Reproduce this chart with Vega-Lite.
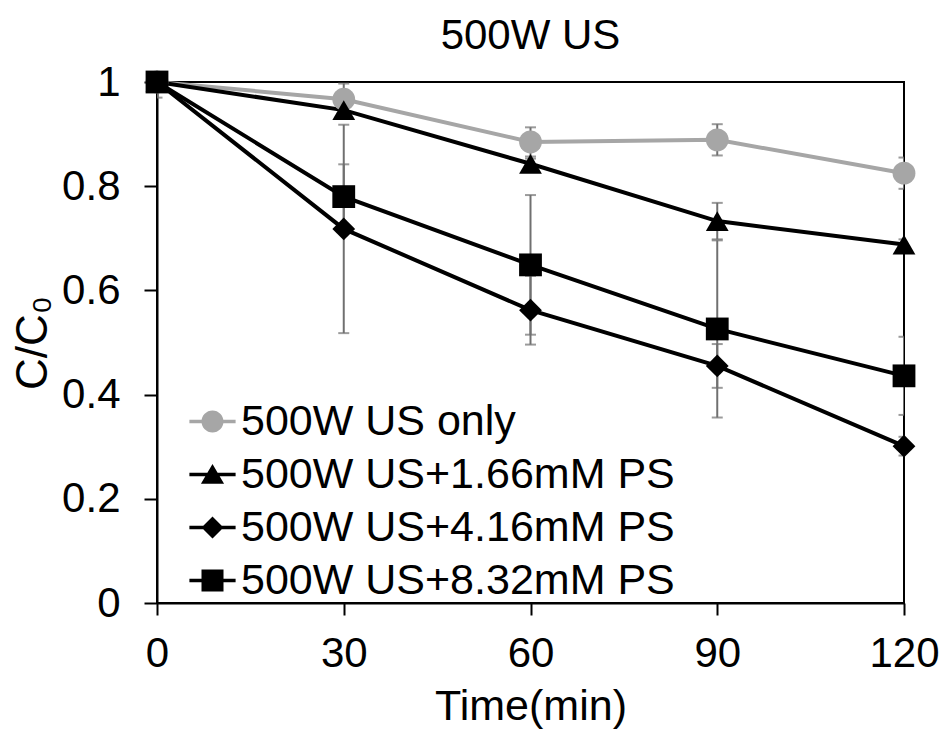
{
  "$schema": "https://vega.github.io/schema/vega-lite/v6.json",
  "width": 747,
  "height": 521,
  "autosize": {"type": "none"},
  "padding": {"left": 157, "top": 82, "right": 38, "bottom": 128},
  "title": {"text": "500W US", "fontSize": 42, "font": "Liberation Sans", "fontWeight": "normal", "color": "#000", "offset": 3},
  "config": {
    "font": "Liberation Sans",
    "view": {"stroke": "#000", "strokeWidth": 2},
    "axis": {"grid": false, "domainColor": "#000", "domainWidth": 2, "tickColor": "#000", "tickWidth": 2, "labelColor": "#000", "titleColor": "#000", "labelFontSize": 42, "titleFontSize": 42, "titleFontWeight": "normal", "labelFont": "Liberation Sans", "titleFont": "Liberation Sans"}
  },
  "data": {
    "values": [
      {"time": 0, "series": "500W US only", "cc0": 1.0, "err": 0.03},
      {"time": 30, "series": "500W US only", "cc0": 0.967, "err": 0.03},
      {"time": 60, "series": "500W US only", "cc0": 0.885, "err": 0.028},
      {"time": 90, "series": "500W US only", "cc0": 0.889, "err": 0.03},
      {"time": 120, "series": "500W US only", "cc0": 0.825, "err": 0.03},
      {"time": 0, "series": "500W US+1.66mM PS", "cc0": 1.0, "err": 0},
      {"time": 30, "series": "500W US+1.66mM PS", "cc0": 0.946, "err": 0.01},
      {"time": 60, "series": "500W US+1.66mM PS", "cc0": 0.843, "err": 0.01},
      {"time": 90, "series": "500W US+1.66mM PS", "cc0": 0.733, "err": 0.035},
      {"time": 120, "series": "500W US+1.66mM PS", "cc0": 0.688, "err": 0.01},
      {"time": 0, "series": "500W US+4.16mM PS", "cc0": 1.0, "err": 0},
      {"time": 30, "series": "500W US+4.16mM PS", "cc0": 0.718, "err": 0.2},
      {"time": 60, "series": "500W US+4.16mM PS", "cc0": 0.562, "err": 0.066},
      {"time": 90, "series": "500W US+4.16mM PS", "cc0": 0.455, "err": 0.042},
      {"time": 120, "series": "500W US+4.16mM PS", "cc0": 0.301, "err": 0.018},
      {"time": 0, "series": "500W US+8.32mM PS", "cc0": 1.0, "err": 0},
      {"time": 30, "series": "500W US+8.32mM PS", "cc0": 0.78, "err": 0.062},
      {"time": 60, "series": "500W US+8.32mM PS", "cc0": 0.649, "err": 0.134},
      {"time": 90, "series": "500W US+8.32mM PS", "cc0": 0.526, "err": 0.17},
      {"time": 120, "series": "500W US+8.32mM PS", "cc0": 0.436, "err": 0.075}
    ]
  },
  "encoding": {
    "x": {"field": "time", "type": "quantitative", "scale": {"domain": [0, 120], "nice": false}, "axis": {"values": [0, 30, 60, 90, 120], "tickSize": 12, "labelPadding": 18, "title": "Time(min)", "titleFontSize": 43, "titlePadding": 11, "labelFlush": false}},
    "y": {"field": "cc0", "type": "quantitative", "scale": {"domain": [0, 1], "nice": false, "zero": true}, "axis": {"values": [0, 0.2, 0.4, 0.6, 0.8, 1], "format": "~g", "tickSize": 13, "labelPadding": 24, "title": "C/C₀", "titleFontSize": 44, "titlePadding": 6, "labelFlush": false}}
  },
  "resolve": {"scale": {"shape": "independent", "color": "independent"}},
  "layer": [
    {
      "mark": {"type": "errorbar", "ticks": {"size": 11}, "thickness": 2, "color": "#707070", "clip": true},
      "encoding": {"yError": {"field": "err"}}
    },
    {
      "mark": {"type": "line", "strokeWidth": 4},
      "encoding": {
        "color": {"field": "series", "type": "nominal", "scale": {"domain": ["500W US only", "500W US+1.66mM PS", "500W US+4.16mM PS", "500W US+8.32mM PS"], "range": ["#A6A6A6", "#000000", "#000000", "#000000"]}, "legend": null}
      }
    },
    {
      "mark": {"type": "point", "filled": true, "size": 520, "opacity": 1},
      "encoding": {
        "color": {"field": "series", "type": "nominal", "scale": {"domain": ["500W US only", "500W US+1.66mM PS", "500W US+4.16mM PS", "500W US+8.32mM PS"], "range": ["#A6A6A6", "#000000", "#000000", "#000000"]}, "legend": null},
        "shape": {"field": "series", "type": "nominal", "scale": {"domain": ["500W US only", "500W US+1.66mM PS", "500W US+4.16mM PS", "500W US+8.32mM PS"], "range": ["circle", "triangle-up", "diamond", "square"]}, "legend": null}
      }
    },
    {
      "transform": [{"filter": "datum.time < 0"}],
      "mark": {"type": "point", "filled": true, "size": 484, "opacity": 1},
      "encoding": {
        "color": {"field": "series", "type": "nominal", "scale": {"domain": ["500W US only", "500W US+1.66mM PS", "500W US+4.16mM PS", "500W US+8.32mM PS"], "range": ["#A6A6A6", "#000000", "#000000", "#000000"]},
          "legend": {"title": null, "orient": "none", "legendX": 34, "legendY": 318, "labelFontSize": 43, "labelFont": "Liberation Sans", "labelColor": "#000", "symbolSize": 484, "rowPadding": 9, "labelOffset": 7, "padding": 0, "symbolStrokeWidth": 0, "symbolOpacity": 1, "labelLimit": 700}},
        "shape": {"field": "series", "type": "nominal", "scale": {"domain": ["500W US only", "500W US+1.66mM PS", "500W US+4.16mM PS", "500W US+8.32mM PS"], "range": ["M-2.1,-0.15H2.1V0.15H-2.1Z M1,0A1,1 0 1,1 -1,0A1,1 0 1,1 1,0Z", "M-2.1,-0.15H2.1V0.15H-2.1Z M0,-0.95L1.05,0.85L-1.05,0.85Z", "M-2.1,-0.15H2.1V0.15H-2.1Z M0,-1L1,0L0,1L-1,0Z", "M-2.1,-0.15H2.1V0.15H-2.1Z M-1,-1H1V1H-1Z"]}, "legend": null}
      }
    }
  ]
}
